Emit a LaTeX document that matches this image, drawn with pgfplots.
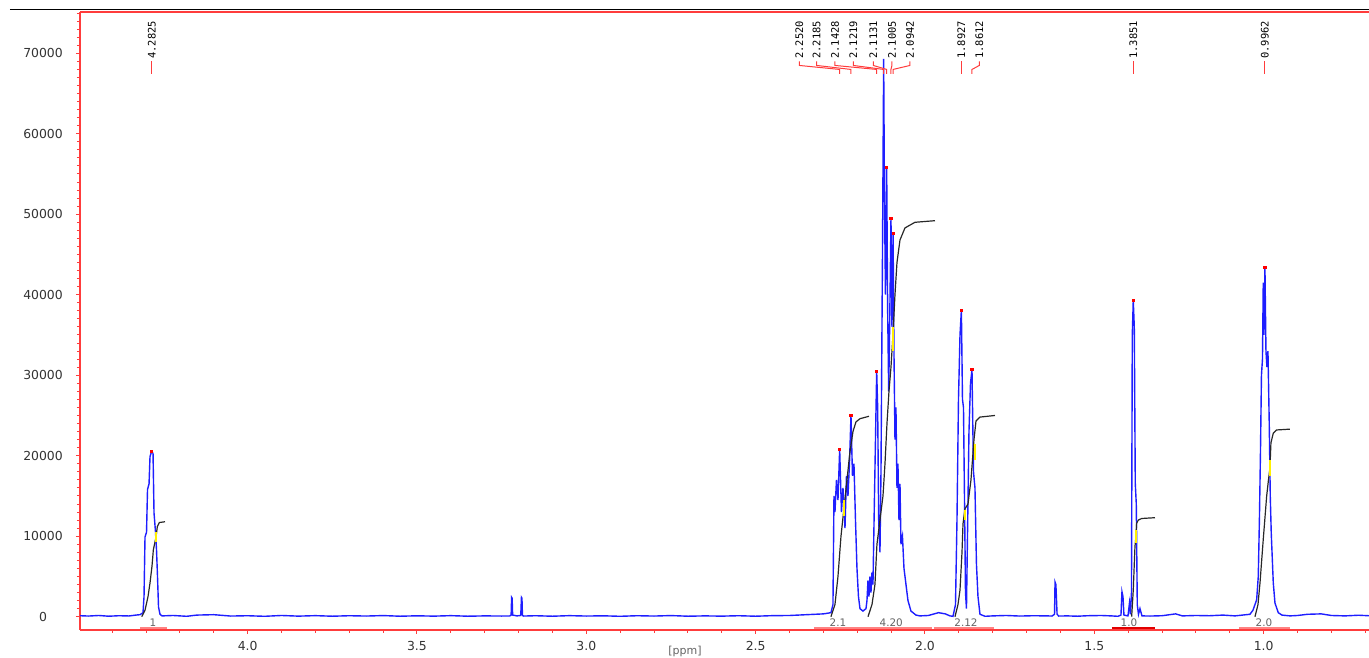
\documentclass[border=0pt]{standalone}
\usepackage{fontspec}
\setmainfont{DejaVu Sans}
\newfontfamily\monof{DejaVu Sans Mono}
\usepackage{pgfplots}
\pgfplotsset{compat=1.18}
\definecolor{spec}{RGB}{30,30,255}
\definecolor{axred}{RGB}{255,60,60}
\definecolor{intbar}{RGB}{255,130,130}
\definecolor{intbarD}{RGB}{225,0,0}
\definecolor{lblgray}{RGB}{100,100,100}
\definecolor{intcol}{RGB}{40,40,40}
\definecolor{ymark}{RGB}{255,240,0}
\newcommand\pk[3]{% label x, peak x, text
  \draw[axred, line width=0.5pt] (axis cs:#1,68984) -- (axis cs:#1,68487) -- (axis cs:#2,67990) -- (axis cs:#2,67431);
  \node[rotate=90, anchor=west, inner sep=0pt, font=\monof\fontsize{5.2}{6}\selectfont] at (axis cs:#1,69295) {#3};}
\newcommand\ib[5]{% from, to, center, text, colour
  \draw[#5, line width=1pt] (axis cs:#1,-1370) -- (axis cs:#2,-1370);
  \node[font=\fontsize{5.2}{6}\selectfont, text=lblgray, inner sep=0pt] at (axis cs:#3,-690) {#4};}
\begin{document}
\begin{tikzpicture}
\begin{axis}[name=a, at={(0,0)}, anchor=south west,
  width=644.5pt, height=309pt, scale only axis,
  x dir=reverse, xmin=0.689, xmax=4.495, ymin=-1652, ymax=75128,
  clip=false,
  axis x line*=bottom, axis y line*=left,
  axis line style={draw=axred, line width=0.65pt, -},
  tick align=outside, major tick length=2pt, minor tick length=1.5pt,
  tick style={axred, line width=0.5pt},
  xtick={1.0,1.5,2.0,2.5,3.0,3.5,4.0},
  xticklabels={1.0,1.5,2.0,2.5,3.0,3.5,4.0},
  minor xtick={0.7,0.8,0.9,1.1,1.2,1.3,1.4,1.6,1.7,1.8,1.9,2.1,2.2,2.3,2.4,2.6,2.7,2.8,2.9,3.1,3.2,3.3,3.4,3.6,3.7,3.8,3.9,4.1,4.2,4.3,4.4},
  ytick={0,10000,20000,30000,40000,50000,60000,70000},
  yticklabels={0,10000,20000,30000,40000,50000,60000,70000},
  minor ytick={1000,2000,...,75000},
  yticklabel style={anchor=center, xshift=-16.5pt, font=\fontsize{6.2}{7}\selectfont, text=black!80},
  xticklabel style={anchor=center, yshift=-6pt, font=\fontsize{6.2}{7}\selectfont, text=black!80},
]
% spectrum
\addplot[spec, line width=0.7pt] coordinates {
(4.495,120)(4.47,80)(4.44,150)(4.41,60)(4.38,120)(4.35,90)(4.33,200)
(4.3177,250)(4.3089,500)(4.3059,2500)(4.3030,9900)(4.2985,10500)(4.2956,15800)(4.2911,16500)
(4.2882,19900)(4.2838,20500)(4.2793,20300)(4.2764,12900)(4.2720,10500)(4.2690,8300)(4.2661,5000)
(4.2631,1200)(4.2587,300)(4.2528,100)(4.22,150)(4.18,50)(4.15,200)(4.10,250)(4.05,80)(4.00,120)
(3.95,50)(3.90,150)(3.85,70)(3.80,130)(3.75,60)(3.70,120)(3.65,80)(3.60,140)(3.55,60)(3.50,110)
(3.45,70)(3.40,130)(3.35,60)(3.30,100)(3.25,80)
(3.2260,90)(3.2220,200)(3.2205,2400)(3.2190,2300)(3.2175,200)(3.2050,100)
(3.1935,150)(3.1915,2400)(3.1900,2300)(3.1885,150)(3.1850,80)
(3.15,120)(3.10,60)(3.05,130)(3.00,80)(2.95,110)(2.90,50)(2.85,120)(2.80,80)(2.75,140)(2.70,60)
(2.65,100)(2.60,70)(2.55,120)(2.50,60)(2.45,130)(2.40,150)(2.35,250)(2.30,350)
(2.2776,500)(2.2717,1500)(2.2687,15000)(2.2658,13000)(2.2613,17000)(2.2569,14500)(2.2519,20800)
(2.2466,13000)(2.2421,16000)(2.2362,11000)(2.2318,17500)(2.2274,15000)(2.2230,19000)(2.2185,25000)
(2.2141,17500)(2.2097,19000)(2.2052,12000)(2.2008,6000)(2.1964,2500)(2.1919,1000)(2.1831,700)
(2.1742,1000)(2.1713,2000)(2.1683,4500)(2.1654,2500)(2.1624,5000)(2.1595,3000)(2.1565,5500)
(2.1536,4000)(2.1491,15000)(2.1426,30500)(2.1397,26000)(2.1367,12000)(2.1329,8000)(2.1299,18000)
(2.1255,45000)(2.1220,69300)(2.1196,52000)(2.1167,40000)(2.1131,55800)(2.1102,38000)(2.1072,28000)
(2.1043,36000)(2.1004,49500)(2.0975,36000)(2.0942,47600)(2.0916,33000)(2.0886,22000)(2.0857,26000)
(2.0827,16000)(2.0798,19000)(2.0768,12000)(2.0738,16500)(2.0709,9000)(2.0665,10000)(2.0620,6000)
(2.0561,4000)(2.0502,2000)(2.0414,700)(2.0266,200)(2.0148,100)
(1.99,150)(1.96,500)(1.94,350)(1.9262,100)(1.9173,50)
(1.9099,1500)(1.9055,12000)(1.9011,27000)(1.8966,35000)(1.8925,38100)(1.8893,27000)(1.8863,26000)
(1.8834,15000)(1.8804,3000)(1.8775,1000)(1.8745,10000)(1.8701,23000)(1.8656,29000)(1.8612,30700)
(1.8568,18000)(1.8524,16000)(1.8480,6500)(1.8435,2500)(1.8376,300)(1.8228,50)
(1.80,100)(1.76,150)(1.72,80)(1.68,120)(1.64,100)
(1.6250,80)(1.6175,300)(1.6160,4300)(1.6135,4000)(1.6120,2500)(1.6100,300)(1.6050,80)
(1.58,100)(1.55,60)(1.52,120)(1.48,150)(1.45,100)
(1.4302,50)(1.4213,200)(1.4184,3100)(1.4154,2500)(1.4125,200)(1.4006,100)(1.3962,1700)(1.3933,300)
(1.3903,3000)(1.3879,35000)(1.3850,39300)(1.3820,36000)(1.3791,16600)(1.3761,14000)(1.3732,1500)
(1.3696,300)(1.3652,1000)(1.3593,100)(1.3357,80)
(1.30,120)(1.26,350)(1.24,100)(1.20,150)(1.16,120)(1.12,200)
(1.0847,100)(1.0404,300)(1.0316,800)(1.0207,2100)(1.0159,5000)(1.0124,12400)(1.0094,20500)
(1.0065,30000)(1.0035,32000)(1.0012,41500)(0.9991,35000)(0.9962,43400)(0.9932,33000)(0.9903,31000)
(0.9873,33000)(0.9835,24000)(0.9805,15000)(0.9776,10400)(0.9716,4200)(0.9666,1700)(0.9569,500)
(0.9460,200)(0.9224,100)(0.90,150)(0.87,300)(0.83,350)(0.80,150)(0.76,100)(0.72,180)(0.689,120)
};
% peak tops
\addplot[only marks, mark=square*, mark size=0.55pt, color=red] coordinates {
(4.2838,20500)(2.2519,20800)(2.2185,25000)(2.1426,30500)(2.1131,55800)(2.1004,49500)(2.0942,47600)
(1.8925,38100)(1.8612,30700)(1.3850,39300)(0.9962,43400)};
% integrals
\addplot[intcol, line width=0.6pt] coordinates {(4.3127,0)(4.3030,800)(4.2941,2500)(4.2882,4200)(4.2823,6300)(4.2784,8300)(4.2705,9900)(4.2666,11200)(4.2607,11700)(4.2439,11800)};
\addplot[intcol, line width=0.6pt] coordinates {(2.2776,0)(2.2658,1500)(2.2569,5000)(2.2480,10000)(2.2392,13500)(2.2303,17000)(2.2215,20500)(2.2126,23000)(2.2038,24200)(2.1919,24600)(2.1742,24800)(2.1654,24900)};
\addplot[intcol, line width=0.6pt] coordinates {(2.1683,0)(2.1565,1500)(2.1477,4000)(2.1418,9000)(2.1329,12000)(2.1240,15000)(2.1181,19000)(2.1122,24000)(2.1063,28000)(2.1004,31000)(2.0945,35000)(2.0886,40000)(2.0827,44000)(2.0738,46800)(2.0591,48300)(2.0296,49000)(1.9705,49200)};
\addplot[intcol, line width=0.6pt] coordinates {(1.9114,0)(1.9026,1500)(1.8966,3300)(1.8907,8000)(1.8878,11500)(1.8819,13400)(1.8730,14000)(1.8642,17000)(1.8553,22000)(1.8494,24300)(1.8376,24800)(1.7933,25000)};
\addplot[intcol, line width=0.6pt] coordinates {(1.3898,0)(1.3850,3300)(1.3800,8700)(1.3771,10000)(1.3750,11600)(1.3703,12000)(1.3602,12200)(1.3209,12300)};
\addplot[intcol, line width=0.6pt] coordinates {(1.0257,0)(1.0168,1500)(1.0108,4200)(1.0012,9600)(0.9911,15000)(0.9858,17000)(0.9814,18500)(0.9785,21600)(0.9716,22800)(0.9617,23200)(0.9224,23300)};
% yellow midpoints
\addplot[ymark, line width=0.9pt] coordinates {(4.2705,9300)(4.2705,10500)};
\addplot[ymark, line width=0.9pt] coordinates {(2.2392,12500)(2.2392,14500)};
\addplot[ymark, line width=0.9pt] coordinates {(2.0945,33000)(2.0945,36000)};
\addplot[ymark, line width=0.9pt] coordinates {(1.8819,12000)(1.8819,13300)};
\addplot[ymark, line width=0.9pt] coordinates {(1.8524,19500)(1.8524,21500)};
\addplot[ymark, line width=0.9pt] coordinates {(1.3771,9200)(1.3771,10800)};
\addplot[ymark, line width=0.9pt] coordinates {(0.9814,17500)(0.9814,19500)};
% top frame lines
\draw[axred, line width=0.65pt] (rel axis cs:0,1) -- (rel axis cs:1,1);
\draw[black, line width=0.7pt] ([xshift=-35pt,yshift=1.1pt]rel axis cs:0,1) -- ([yshift=1.1pt]rel axis cs:1,1);
% peak labels
\pk{4.2825}{4.2825}{4.2825}
\pk{2.3712}{2.2520}{2.2520}
\pk{2.3198}{2.2185}{2.2185}
\pk{2.2658}{2.1428}{2.1428}
\pk{2.2117}{2.1219}{2.1219}
\pk{2.1527}{2.1131}{2.1131}
\pk{2.0975}{2.1005}{2.1005}
\pk{2.0443}{2.0942}{2.0942}
\pk{1.8927}{1.8927}{1.8927}
\pk{1.8396}{1.8612}{1.8612}
\pk{1.3851}{1.3851}{1.3851}
\pk{0.9962}{0.9962}{0.9962}
% integral bars
\ib{4.3177}{4.2380}{4.2793}{1}{intbar}
\ib{2.3277}{2.1683}{2.2569}{2.1}{intbar}
\ib{2.1683}{1.9794}{2.0996}{4.20}{intbar}
\ib{1.9734}{1.7963}{1.8790}{2.12}{intbar}
\ib{1.4479}{1.3209}{1.3977}{1.0}{intbarD}
\ib{1.0730}{0.9224}{0.9992}{2.0}{intbar}
\node[font=\fontsize{5.5}{6}\selectfont, text=lblgray] at ([yshift=-10.5pt]axis cs:2.7086,-1652) {[ppm]};
\end{axis}
\pgfresetboundingbox
\path ([xshift=-40pt,yshift=-14pt]a.south west) rectangle ([yshift=6pt]a.north east);
\end{tikzpicture}
\end{document}
